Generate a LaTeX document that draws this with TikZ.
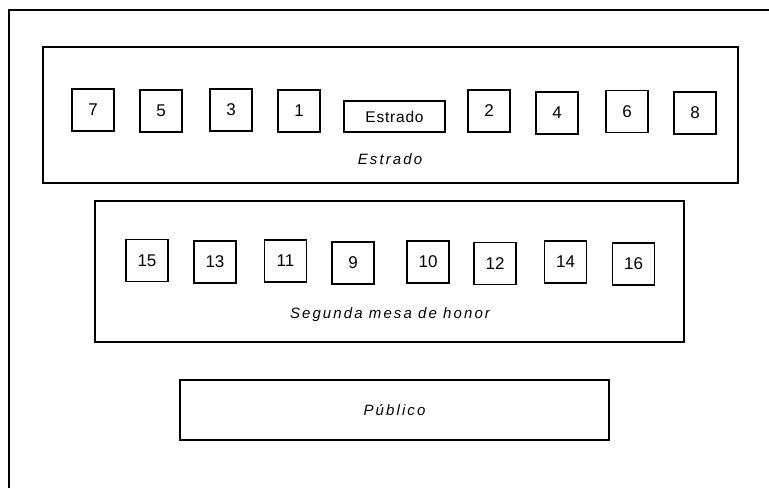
\documentclass[tikz,border=0pt]{standalone}
\usepackage{fontspec}
\setmainfont{Liberation Sans}
\newfontfamily\tablefont[LetterSpace=14]{Liberation Sans}
\newfontfamily\stagefont[LetterSpace=5]{Liberation Sans}
\usetikzlibrary{positioning}
\tikzset{
  seat/.style = {draw, line width = 1.3pt, minimum width = 42pt, minimum height = 42pt,
    inner sep = 0pt, font = \fontsize{17}{19}\selectfont},
  table/.style = {draw, line width = 1.5pt, inner sep = 0pt},
  tablelabel/.style = {font = \tablefont\itshape\fontsize{15}{17}\selectfont}
}
\newcommand{\myframewidth}{1.6pt}

\begin{document}
\begin{tikzpicture}[x = 1pt, y = -1pt]
\useasboundingbox (0,0) rectangle (769,488);
% room outline
\coordinate (roombl) at (9,488);
\coordinate (roomtl) at (9,10);
\coordinate (roomtr) at (769,10);
\draw[line width = \myframewidth] (roombl) -- (roomtl) -- (roomtr);
% tables
\node[table, minimum width = 695pt, minimum height = 136pt] (estrado) at (390.5,115) {};
\node[table, minimum width = 589pt, minimum height = 141pt] (segunda) at (389.5,271.5) {};
\node[table, minimum width = 429pt, minimum height = 60pt] (publico) at (394.5,410)
  {\tablefont\itshape\fontsize{15}{17}\selectfont Público};
\node[tablelabel] (estradolabel) at (390,159) {Estrado};
\node[tablelabel] (segundalabel) at (390,315) {Segunda mesa de honor};
% stage box
\node[draw, line width = 1.3pt, minimum width = 101pt, minimum height = 31pt, inner sep = 0pt,
  font = \stagefont\fontsize{15.5}{17}\selectfont] (stage) at (394.5,116.5) {Estrado};
% seats, first row
\foreach \n/\x/\y in {7/93/110, 5/161/111, 3/231/110, 1/299/111,
                      2/489/111, 4/557/113, 6/627/111.5, 8/695/113}
  \node[seat] (seat\n) at (\x,\y) {\n};
% seats, second row
\foreach \n/\x/\y in {15/147/260.5, 13/215/262, 11/285.5/261, 9/353/263,
                      10/428/262, 12/495/263.5, 14/565.5/262, 16/633.5/264}
  \node[seat] (seat\n) at (\x,\y) {\n};
\end{tikzpicture}
\end{document}
